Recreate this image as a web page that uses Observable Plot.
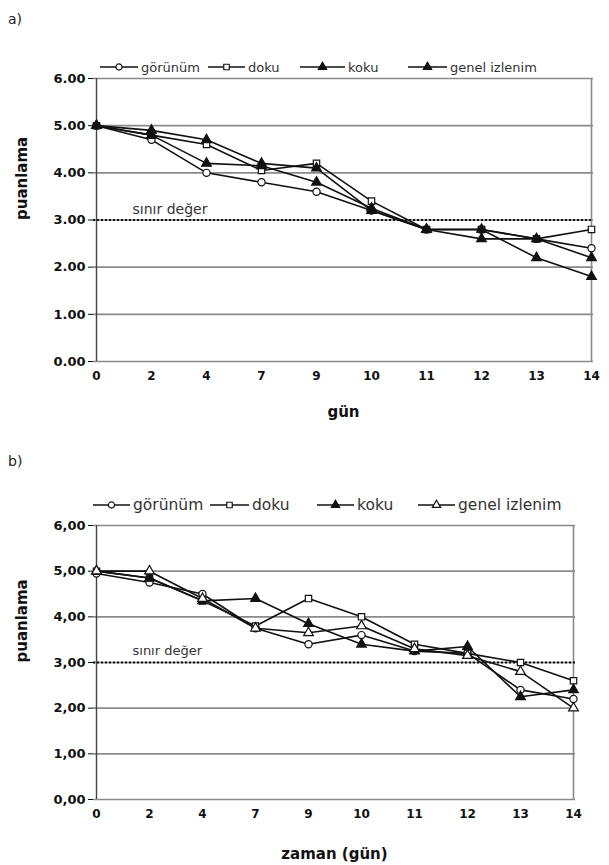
<!DOCTYPE html>
<html>
<head>
<meta charset="utf-8">
<script src="https://cdn.jsdelivr.net/npm/d3@7"></script>
<script src="https://cdn.jsdelivr.net/npm/@observablehq/plot@0.6"></script>
<style>
  body { margin: 0; background: white; font-family: "DejaVu Sans", Verdana, sans-serif; }
  #root { position: relative; width: 609px; height: 865px; overflow: hidden; }
  .abs { position: absolute; }
  .panel-tag { font-size: 14px; color: #222; }
  .legend-item { position: absolute; display: flex; align-items: center; white-space: nowrap; color: #333; }
  .legend-item svg { display: block; }
</style>
</head>
<body>
<div id="root"></div>
<script>
// ---------- data ----------
const days = ["0", "2", "4", "7", "9", "10", "11", "12", "13", "14"];
const seriesNames = ["görünüm", "doku", "koku", "genel izlenim"];
const yTicks = [0, 1, 2, 3, 4, 5, 6];
const limitValue = 3;
const limitLabel = "sınır değer";

// panel a
const aGorunum = [5.0, 4.7, 4.0, 3.8, 3.6, 3.2, 2.8, 2.8, 2.6, 2.4];
const aDoku    = [5.0, 4.8, 4.6, 4.05, 4.2, 3.4, 2.8, 2.8, 2.6, 2.8];
const aKoku    = [5.0, 4.9, 4.7, 4.2, 4.1, 3.2, 2.8, 2.8, 2.2, 1.8];
const aGenel   = [5.0, 4.8, 4.2, 4.15, 3.8, 3.25, 2.8, 2.6, 2.6, 2.2];
const aSymbols = ["circle", "square", "triangle", "triangle"];
const aFilled  = [false, false, true, true];

// panel b
const bGorunum = [4.95, 4.75, 4.5, 3.75, 3.4, 3.6, 3.25, 3.2, 2.4, 2.2];
const bDoku    = [5.0, 4.85, 4.35, 3.8, 4.4, 4.0, 3.4, 3.2, 3.0, 2.6];
const bKoku    = [5.0, 4.85, 4.35, 4.4, 3.85, 3.4, 3.25, 3.35, 2.25, 2.4];
const bGenel   = [5.0, 5.0, 4.4, 3.75, 3.65, 3.8, 3.3, 3.15, 2.8, 2.0];
const bSymbols = ["circle", "square", "triangle", "triangle"];
const bFilled  = [false, false, true, false];

const aXLabel = "gün";
const bXLabel = "zaman (gün)";
const yLabel = "puanlama";

// ---------- helpers ----------
function toRows(seriesArrays, filled) {
  const rows = [];
  seriesArrays.forEach((vals, si) => {
    vals.forEach((v, i) => rows.push({ day: days[i], v, series: seriesNames[si], filled: filled[si] }));
  });
  return rows;
}

function makePanel({ rows, symbols, xLabel, fmt, mTop, mBottom, mRight, height, xLabelDy, limitDy, limitSize, r }) {
  return Plot.plot({
    width: 609,
    height,
    marginTop: mTop,
    marginBottom: mBottom,
    marginLeft: 93,
    marginRight: mRight,
    style: { fontFamily: "DejaVu Sans, Verdana, sans-serif", fontSize: "12px", fontWeight: "bold", color: "#111", background: "white" },
    x: { type: "point", domain: days, padding: 0, tickSize: 0, tickPadding: 10, label: null },
    y: { domain: [0, 6], ticks: yTicks, tickFormat: fmt, tickSize: 5, tickPadding: 3, label: null },
    symbol: { domain: seriesNames, range: symbols },
    color: { type: "identity" },
    marks: [
      Plot.ruleY(yTicks, { stroke: "#8a8a8a", strokeWidth: 1.6 }),
      Plot.ruleX([days[days.length - 1]], { stroke: "#8a8a8a", strokeWidth: 1.6 }),
      Plot.ruleX([days[0]], { stroke: "#444", strokeWidth: 1.4 }),
      Plot.ruleY([limitValue], { stroke: "#111", strokeWidth: 2.2, strokeDasharray: "2,2" }),
      Plot.text([limitLabel], { x: () => days[0], y: () => limitValue, text: d => d, textAnchor: "start", dx: 36, dy: limitDy, fontSize: limitSize, fontWeight: "normal", fill: "#333" }),
      Plot.line(rows, { x: "day", y: "v", z: "series", stroke: "#111", strokeWidth: 1.6 }),
      Plot.dot(rows, { x: "day", y: "v", symbol: "series", fill: d => d.filled ? "#111" : "white", stroke: "#111", strokeWidth: 1.2, r }),
      Plot.text([xLabel], { frameAnchor: "bottom", text: d => d, dy: xLabelDy, fontSize: 15, fontWeight: "bold", fill: "#111" }),
      Plot.text([yLabel], { frameAnchor: "left", text: d => d, dx: -71, rotate: -90, fontSize: 15, fontWeight: "bold", fill: "#111" })
    ]
  });
}

function makeLegend(symbols, filled, fontSize, y, items) {
  const ns = "http://www.w3.org/2000/svg";
  const symMap = { circle: d3.symbolCircle, square: d3.symbolSquare, triangle: d3.symbolTriangle };
  const frag = document.createDocumentFragment();
  seriesNames.forEach((name, i) => {
    const [x0, lineW] = items[i];
    const item = document.createElement("div");
    item.className = "legend-item";
    item.style.left = x0 + "px";
    item.style.top = (y - 9) + "px";
    item.style.height = "18px";
    item.style.fontSize = fontSize + "px";
    const svg = document.createElementNS(ns, "svg");
    svg.setAttribute("width", lineW);
    svg.setAttribute("height", 14);
    const line = document.createElementNS(ns, "line");
    line.setAttribute("x1", 0); line.setAttribute("x2", lineW);
    line.setAttribute("y1", 7); line.setAttribute("y2", 7);
    line.setAttribute("stroke", "#111"); line.setAttribute("stroke-width", 1.5);
    svg.appendChild(line);
    const path = document.createElementNS(ns, "path");
    path.setAttribute("d", d3.symbol(symMap[symbols[i]], 30)());
    path.setAttribute("transform", `translate(${lineW / 2},7)`);
    path.setAttribute("fill", filled[i] ? "#111" : "white");
    path.setAttribute("stroke", "#111");
    path.setAttribute("stroke-width", 1.2);
    svg.appendChild(path);
    item.appendChild(svg);
    const span = document.createElement("span");
    span.textContent = name;
    span.style.marginLeft = "3px";
    item.appendChild(span);
    frag.appendChild(item);
  });
  return frag;
}

// ---------- build ----------
const root = document.getElementById("root");

const plotA = makePanel({
  rows: toRows([aGorunum, aDoku, aKoku, aGenel], aFilled),
  symbols: aSymbols, xLabel: aXLabel, fmt: d => d.toFixed(2),
  mTop: 18, mBottom: 59, mRight: 16, height: 360, xLabelDy: 55, limitDy: -10, limitSize: 14, r: 3.6
});
plotA.classList.add("abs");
plotA.style.top = "60px"; plotA.style.left = "0px";
root.appendChild(plotA);

const plotB = makePanel({
  rows: toRows([bGorunum, bDoku, bKoku, bGenel], bFilled),
  symbols: bSymbols, xLabel: bXLabel, fmt: d => d.toFixed(2).replace(".", ","),
  mTop: 20, mBottom: 66, mRight: 34, height: 360, xLabelDy: 59, limitDy: -12, limitSize: 13, r: 3.6
});
plotB.classList.add("abs");
plotB.style.top = "505px"; plotB.style.left = "0px";
root.appendChild(plotB);

const tagA = document.createElement("div");
tagA.className = "abs panel-tag"; tagA.textContent = "a)";
tagA.style.top = "11px"; tagA.style.left = "8px";
root.appendChild(tagA);

const tagB = document.createElement("div");
tagB.className = "abs panel-tag"; tagB.textContent = "b)";
tagB.style.top = "453px"; tagB.style.left = "8px";
root.appendChild(tagB);

root.appendChild(makeLegend(aSymbols, aFilled, 13, 67, [[100, 38], [208, 37], [300, 45], [408, 39]]));
root.appendChild(makeLegend(bSymbols, bFilled, 15.5, 505, [[93, 37], [210, 39], [317, 37], [418, 37]]));

// larger y tick labels
document.querySelectorAll("svg [aria-label='y-axis'] text, svg [aria-label='y-axis tick label'] text").forEach(t => t.style.fontSize = "13px");
</script>
</body>
</html>
